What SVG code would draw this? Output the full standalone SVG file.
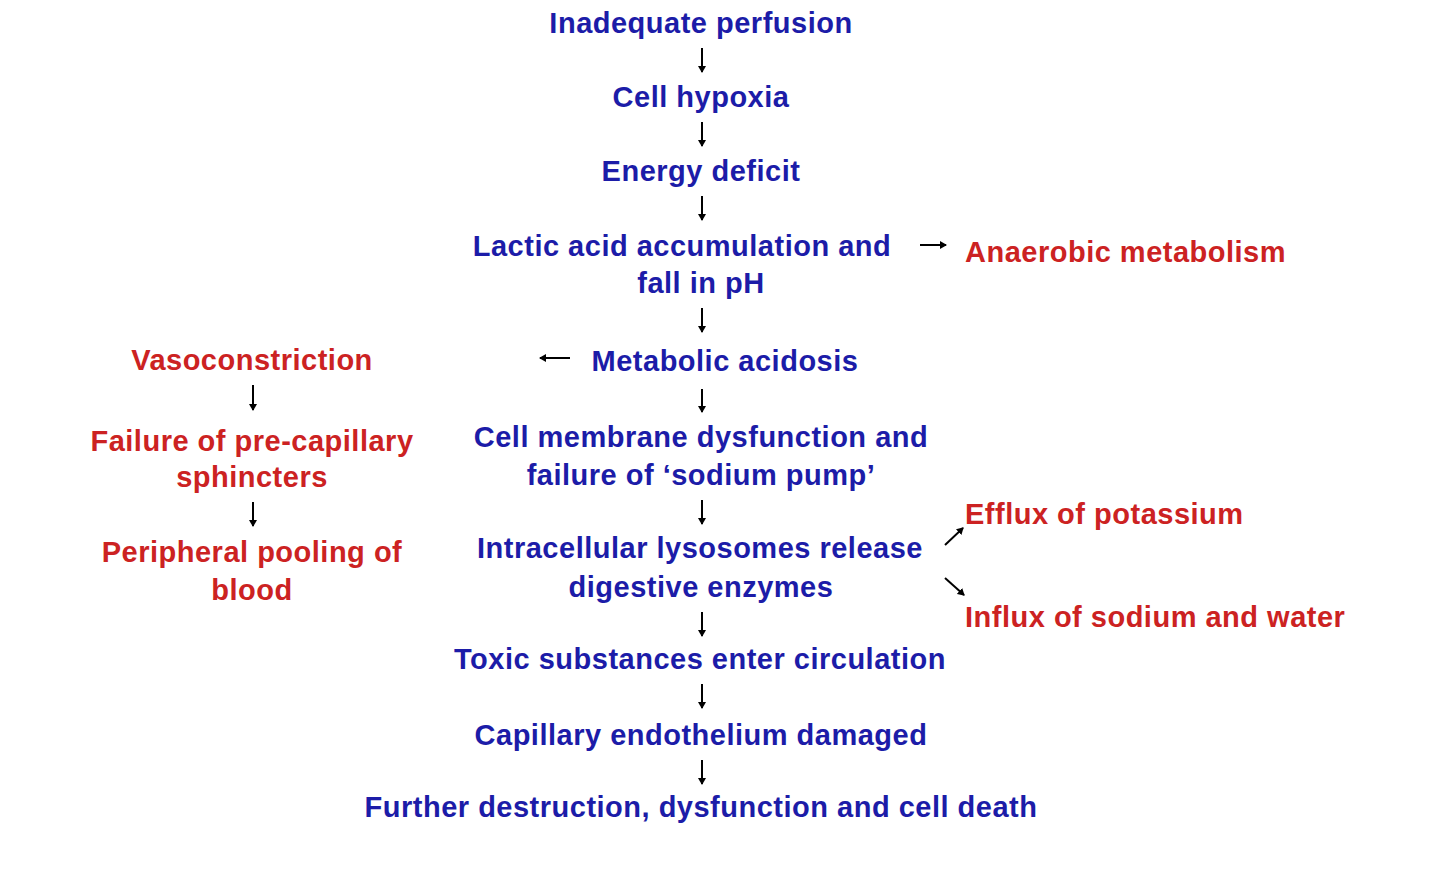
<svg xmlns="http://www.w3.org/2000/svg" width="1440" height="895" viewBox="0 0 1440 895">
<defs>
<marker id="ah" markerWidth="8" markerHeight="8" refX="6" refY="4" orient="auto" markerUnits="userSpaceOnUse"><path d="M0,0 L7,4 L0,8 Z" fill="#000"/></marker>
<style>
text{font-family:"Liberation Sans",Arial,sans-serif;font-weight:bold;font-size:29px;letter-spacing:0.5px}
.b{fill:#1c1ca8;text-anchor:middle}
.r{fill:#cc2222}
.c{text-anchor:middle}
line{stroke:#000;stroke-width:2;marker-end:url(#ah)}
</style>
</defs>
<rect width="1440" height="895" fill="#fff"/>
<g id="n1"><text class="b" x="701" y="33">Inadequate perfusion</text></g>
<g id="n2"><text class="b" x="701" y="107">Cell hypoxia</text></g>
<g id="n3"><text class="b" x="701" y="181">Energy deficit</text></g>
<g id="n4"><text class="b" x="682" y="256">Lactic acid accumulation and</text><text class="b" x="701" y="293">fall in pH</text></g>
<g id="n5"><text class="b" x="725" y="371">Metabolic acidosis</text></g>
<g id="n6"><text class="b" x="701" y="447">Cell membrane dysfunction and</text><text class="b" x="701" y="485">failure of ‘sodium pump’</text></g>
<g id="n7"><text class="b" x="700" y="558">Intracellular lysosomes release</text><text class="b" x="701" y="597">digestive enzymes</text></g>
<g id="n8"><text class="b" x="700" y="669">Toxic substances enter circulation</text></g>
<g id="n9"><text class="b" x="701" y="745">Capillary endothelium damaged</text></g>
<g id="n10"><text class="b" x="701" y="817">Further destruction, dysfunction and cell death</text></g>
<g id="r1"><text class="r" x="965" y="262">Anaerobic metabolism</text></g>
<g id="r2"><text class="r c" x="252" y="370">Vasoconstriction</text></g>
<g id="r3"><text class="r c" x="252" y="451">Failure of pre-capillary</text><text class="r c" x="252" y="487">sphincters</text></g>
<g id="r4"><text class="r c" x="252" y="562">Peripheral pooling of</text><text class="r c" x="252" y="600">blood</text></g>
<g id="r5"><text class="r" x="965" y="524">Efflux of potassium</text></g>
<g id="r6"><text class="r" x="965" y="627">Influx of sodium and water</text></g>
<g id="connectors">
<line x1="702" y1="48" x2="702" y2="72"/>
<line x1="702" y1="122" x2="702" y2="146"/>
<line x1="702" y1="196" x2="702" y2="220"/>
<line x1="702" y1="308" x2="702" y2="332"/>
<line x1="702" y1="389" x2="702" y2="412"/>
<line x1="702" y1="500" x2="702" y2="524"/>
<line x1="702" y1="612" x2="702" y2="636"/>
<line x1="702" y1="684" x2="702" y2="708"/>
<line x1="702" y1="760" x2="702" y2="784"/>
<line x1="253" y1="385" x2="253" y2="410"/>
<line x1="253" y1="502" x2="253" y2="526"/>
<line x1="920" y1="245" x2="946" y2="245"/>
<line x1="570" y1="358" x2="540" y2="358"/>
<line x1="945" y1="545" x2="963" y2="528"/>
<line x1="945" y1="578" x2="964" y2="595"/>
</g>
</svg>
